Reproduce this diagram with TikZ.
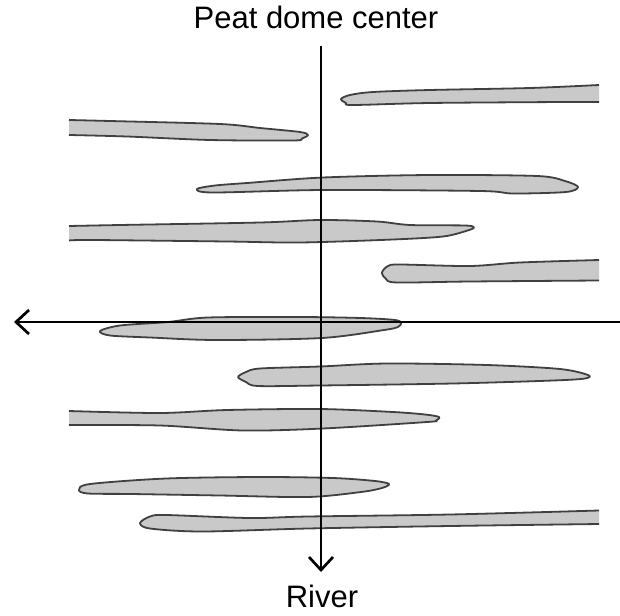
\documentclass[tikz,border=0pt]{standalone}
\usepackage{fontspec}
\setmainfont{Liberation Sans}
\usetikzlibrary{arrows.meta}

% one peat lens: gray body, dark rim
\newcommand{\closedlens}[1]{%
  \filldraw[lens] plot[smooth cycle] coordinates {#1};}
\newcommand{\openlens}[1]{%
  \fill[lensfill] plot[smooth] coordinates {#1} -- cycle;
  \draw[rim] plot[smooth] coordinates {#1};}

\begin{document}
\begin{tikzpicture}[
    x=1pt, y=-1pt,
    lensfill/.style={fill=gray!42},
    rim/.style={draw=black!75, line width=1.8pt, line join=round},
    lens/.style={lensfill, rim},
    axis/.style={line width=2.7pt, -{Straight Barb[length=13pt,width=24pt]}},
    label/.style={inner sep=0pt, font=\fontsize{31}{37}\selectfont}
]
  \useasboundingbox (0,0) rectangle (620,615);

  % Lenses, top to bottom
  \openlens{(599,85) (530,88) (430,90) (373,92) (350,95) (341,99) (346,103) (353,105) (430,103) (563,102) (599,102)}
  \openlens{(69,120) (110,121) (220,124) (260,128) (300,132) (308,135) (302,138.5) (293,140.5) (210,140) (127,136.5) (69,135)}
  \closedlens{(197,189) (215,185.5) (247,183) (323,177.5) (430,175) (537,176) (565,181) (578,187) (566,192) (513,193.5) (480,191) (323,190) (213,192.5)}
  \openlens{(69,226) (120,225) (260,222.5) (320,220) (377,221.5) (410,225) (465,225.5) (474,227.5) (466,231) (443,236.5) (393,239.5) (300,242.5) (227,241.5) (93,240) (69,240.5)}
  \openlens{(599,260) (520,262.5) (470,266) (400,264.5) (388,266) (382,272.5) (386,279) (397,282.5) (470,281.5) (599,280.5)}
  \closedlens{(100,331) (120,325.5) (168,322) (208,317.5) (300,317) (361,318) (395,320) (401,323) (398,327) (384,330) (322,338) (216,340) (150,337.5) (110,335.5)}
  \closedlens{(238,377) (246,372) (260,368.5) (320,366.5) (387,363.5) (487,365) (560,369) (588,375) (585,378.5) (553,380.5) (453,383.5) (320,385.5) (258,386) (246,382)}
  \openlens{(69,411) (160,413) (227,410) (320,409) (393,412) (425,414.5) (439,417) (436,420.5) (427,422) (323,428.5) (243,430.5) (160,425.5) (69,425)}
  \closedlens{(79,490) (90,484) (166,478.5) (260,477) (333,478) (375,481) (389,484) (382,488) (361,492) (308,497) (220,495.5) (131,494) (88,493.5)}
  \openlens{(599,510.5) (450,514.5) (308,516.5) (250,518) (166,515) (150,516.5) (140,523) (150,528.5) (202,531.5) (308,528.5) (450,526) (599,524)}

  % Labels
  \node[label, anchor=base] (dome) at (316,29) {Peat dome center};
  \node[label, anchor=base] (river) at (322,607) {River};

  % Axes
  \coordinate (vtop) at (321,46);
  \coordinate (vbot) at (321,572);
  \coordinate (hright) at (620,322);
  \coordinate (hleft) at (14,322);
  \draw[axis] (vtop) -- (vbot);
  \draw[axis] (hright) -- (hleft);
\end{tikzpicture}
\end{document}
